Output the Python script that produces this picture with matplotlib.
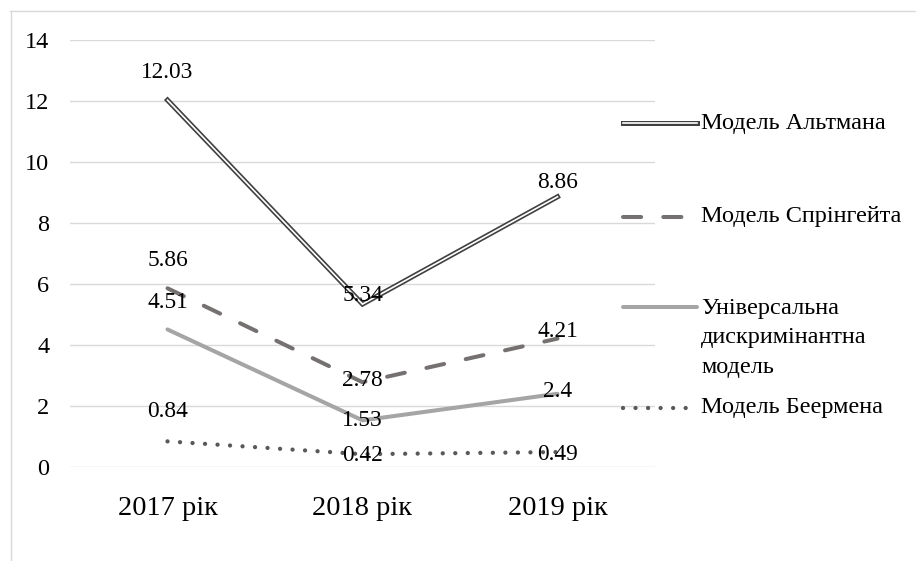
import matplotlib
matplotlib.use('Agg')
import matplotlib.pyplot as plt
from matplotlib.lines import Line2D

# значення моделей по роках
years = ['2017 рік', '2018 рік', '2019 рік']
altman = [12.03, 5.34, 8.86]
springate = [5.86, 2.78, 4.21]
universal = [4.51, 1.53, 2.4]
beerman = [0.84, 0.42, 0.49]
names = ['Модель Альтмана', 'Модель Спрінгейта',
         'Універсальна\nдискримінантна\nмодель', 'Модель Беермена']

plt.rcParams['font.family'] = ['Liberation Serif', 'DejaVu Serif']

fig = plt.figure(figsize=(9.16, 5.61), dpi=100)
ax = fig.add_axes([70 / 916, 1 - 467 / 561, 585 / 916, 427 / 561])

x = range(len(years))
grey_dark = '#404040'
grey_dash = '#767171'
grey_light = '#A5A5A5'
grey_dot = '#595959'

# подвійна лінія Альтмана: темна основа + біла середина
ax.plot(x, altman, color=grey_dark, lw=3.6, solid_joinstyle='miter', zorder=3)
ax.plot(x, altman, color='white', lw=1.2, solid_joinstyle='miter', zorder=4)
ax.plot(x, springate, color=grey_dash, lw=2.9, dashes=(4.5, 5.5),
        dash_capstyle='round', zorder=3)
ax.plot(x, universal, color=grey_light, lw=2.9, solid_capstyle='round', zorder=3)
ax.plot(x, beerman, color=grey_dot, lw=3.1, dashes=(0.01, 2.9),
        dash_capstyle='round', zorder=3)

# підписи значень (зсув у пікселях над точкою)
offsets = {
    'a': [28, 9, 14],
    's': [28, 2, 7],
    'u': [27, 0, 2],
    'b': [30, -1, -2],
}
for key, series in zip('asub', [altman, springate, universal, beerman]):
    for i, v in enumerate(series):
        ax.annotate(f'{v:g}', (i, v), xytext=(0, offsets[key][i]),
                    textcoords='offset pixels', ha='center', va='center',
                    fontsize=16.8, zorder=5)

ax.set_xlim(-0.5, 2.5)
ax.set_ylim(0, 14)
ax.set_yticks(range(0, 15, 2))
ax.set_xticks(list(x))
ax.set_xticklabels(years, fontsize=20.5)
ax.tick_params(axis='y', length=0, pad=15, labelsize=17.5)
ax.tick_params(axis='x', length=0, pad=21)
ax.grid(axis='y', color='#D9D9D9', lw=1)
ax.set_axisbelow(True)
for s in ax.spines.values():
    s.set_visible(False)

# рамка діаграми
fig.add_artist(Line2D([10 / 916, 1], [1 - 10.5 / 561] * 2, color='#D9D9D9', lw=1))
fig.add_artist(Line2D([10.5 / 916] * 2, [0, 1 - 10.5 / 561], color='#D9D9D9', lw=1))

# легенда праворуч
lx0, lx1, tx = 623 / 916, 697 / 916, 701 / 916
rows = [123, 217, 307, 408]
def fy(p):
    return 1 - p / 561

fig.add_artist(Line2D([lx0, lx1], [fy(rows[0])] * 2, color=grey_dark, lw=3.6))
fig.add_artist(Line2D([lx0, lx1], [fy(rows[0])] * 2, color='white', lw=1.2))
fig.add_artist(Line2D([lx0, lx1], [fy(rows[1])] * 2, color=grey_dash, lw=2.9,
                      dashes=(4.5, 5.5), dash_capstyle='round'))
fig.add_artist(Line2D([lx0, lx1], [fy(rows[2])] * 2, color=grey_light, lw=2.9,
                      solid_capstyle='round'))
fig.add_artist(Line2D([lx0, lx1], [fy(rows[3])] * 2, color=grey_dot, lw=3.1,
                      dashes=(0.01, 2.9), dash_capstyle='round'))
for i, (r, name) in enumerate(zip(rows, names)):
    if '\n' in name:
        fig.text(tx, fy(r - 9), name, fontsize=17.5, va='top', ha='left',
                 linespacing=1.52)
    else:
        fig.text(tx, fy(r), name, fontsize=17.5, va='center', ha='left')

fig.savefig('out.png', dpi=100)
